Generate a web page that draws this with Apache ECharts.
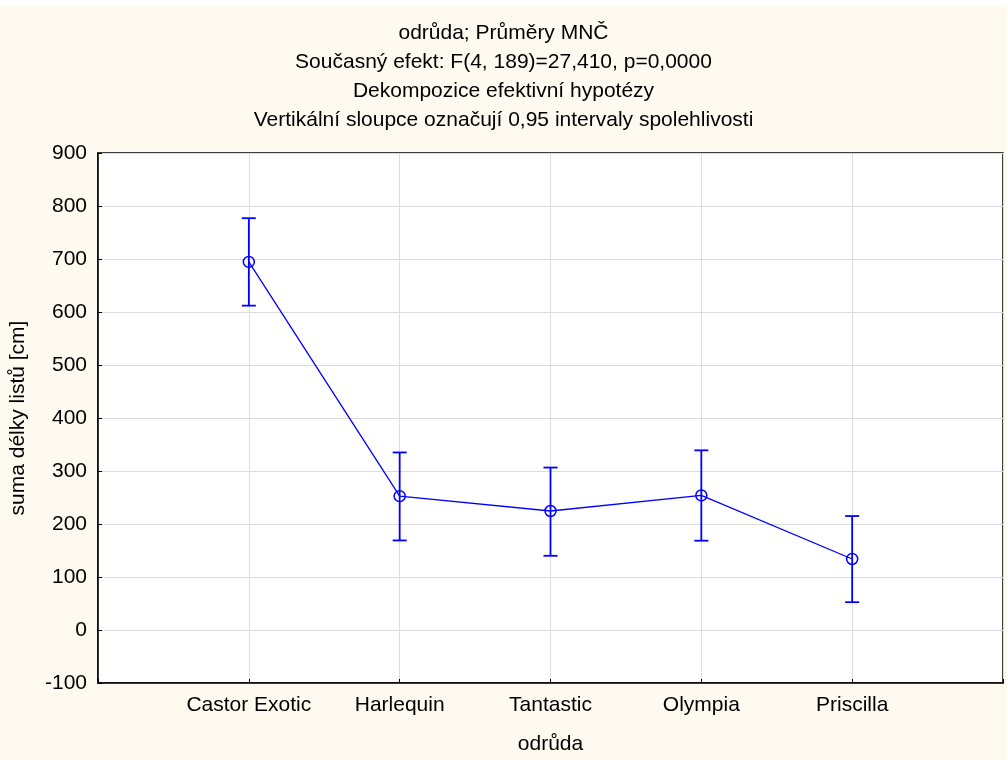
<!DOCTYPE html>
<html><head><meta charset="utf-8">
<script src="https://cdn.jsdelivr.net/npm/echarts@6/dist/echarts.min.js"></script>
<style>html,body{margin:0;padding:0;background:#fff;}#c{position:absolute;left:0;top:5px;width:1007px;height:755px;}</style>
</head><body><div id="c"></div>
<script>
const titleLines = ["odrůda; Průměry MNČ","Současný efekt: F(4, 189)=27,410, p=0,0000","Dekompozice efektivní hypotézy","Vertikální sloupce označují 0,95 intervaly spolehlivosti"];
const categories = ["Castor Exotic","Harlequin","Tantastic","Olympia","Priscilla"];
const means = [694.5, 252.5, 224.5, 254, 134];
const lower = [612, 169, 140, 168.5, 52.5];
const upper = [777, 335, 306.5, 339, 215];
const yTicks = [-100,0,100,200,300,400,500,600,700,800,900];
const xAxisName = "odrůda";
const yAxisName = "suma délky listů [cm]";

const axisCats = [""].concat(categories, [""]);
const blue = '#0000ff';
const FONT = 'Liberation Sans';
const FS = 21;
const chart = echarts.init(document.getElementById('c'));
chart.setOption({
  backgroundColor: '#fefaf0',
  animation: false,
  title: {
    text: titleLines.join('\n'),
    left: 'center', top: 9,
    textStyle: {fontFamily: FONT, fontSize: FS, fontWeight: 'normal', color: '#000', lineHeight: 29}
  },
  grid: {left: 98, right: 4, top: 148, bottom: 76, show: true, backgroundColor: '#fff', borderColor: '#000', borderWidth: 1.5},
  xAxis: {
    type: 'category', data: axisCats, boundaryGap: false,
    name: xAxisName, nameLocation: 'middle', nameGap: 51,
    nameTextStyle: {fontFamily: FONT, fontSize: FS, color: '#000'},
    axisLine: {onZero: false, lineStyle: {color: '#000', width: 1.5}},
    axisTick: {inside: true, length: 4, lineStyle: {color: '#000'}},
    axisLabel: {fontFamily: FONT, fontSize: FS, color: '#000', margin: 12, interval: 0},
    splitLine: {show: true, lineStyle: {color: '#dcdcdc', width: 1}}
  },
  yAxis: {
    type: 'value', min: yTicks[0], max: yTicks[yTicks.length-1], interval: 100,
    name: yAxisName, nameLocation: 'middle', nameGap: 69,
    nameTextStyle: {fontFamily: FONT, fontSize: FS, color: '#000'},
    axisLine: {show: true, onZero: false, lineStyle: {color: '#000', width: 1.5}},
    axisTick: {show: true, inside: true, length: 4, lineStyle: {color: '#000'}},
    axisLabel: {fontFamily: FONT, fontSize: FS, color: '#000', margin: 11},
    splitLine: {show: true, lineStyle: {color: '#dcdcdc', width: 1}}
  },
  series: [
    {
      type: 'custom',
      data: categories.map((c, i) => [c, lower[i], upper[i]]),
      renderItem: function (params, api) {
        const x = api.value(0);
        const lo = api.coord([x, api.value(1)]);
        const hi = api.coord([x, api.value(2)]);
        const hw = 7;
        const st = {stroke: blue, lineWidth: 1.8};
        return {type: 'group', children: [
          {type: 'line', shape: {x1: lo[0], y1: lo[1], x2: hi[0], y2: hi[1]}, style: st},
          {type: 'line', shape: {x1: lo[0]-hw, y1: lo[1], x2: lo[0]+hw, y2: lo[1]}, style: st},
          {type: 'line', shape: {x1: hi[0]-hw, y1: hi[1], x2: hi[0]+hw, y2: hi[1]}, style: st}
        ]};
      },
      z: 5
    },
    {
      type: 'line',
      data: categories.map((c, i) => [c, means[i]]),
      symbol: 'circle', symbolSize: 11,
      lineStyle: {color: blue, width: 1.3},
      itemStyle: {color: 'rgba(0,0,0,0)', borderColor: blue, borderWidth: 1.5},
      z: 4
    }
  ]
});
</script></body></html>
